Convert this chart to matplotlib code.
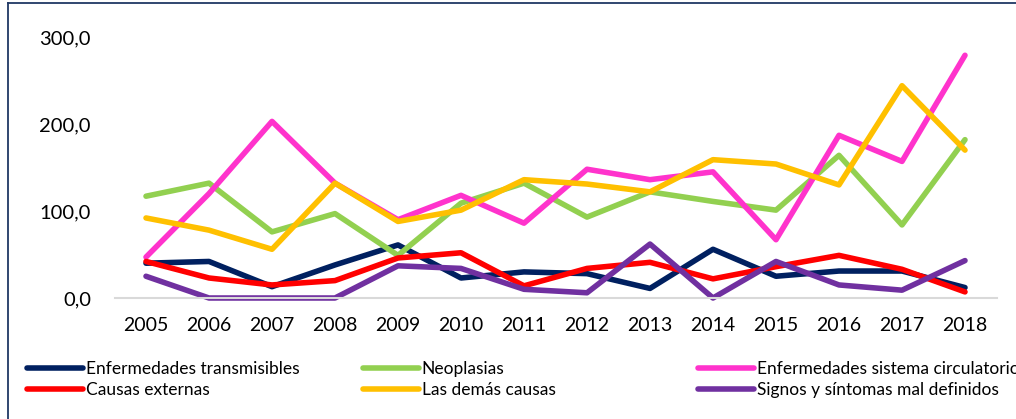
import matplotlib
matplotlib.use("Agg")
from matplotlib import pyplot as plt
from matplotlib.lines import Line2D
from matplotlib.ticker import FuncFormatter

years = [str(y) for y in range(2005, 2019)]

transmisibles = [40, 42, 13, 38, 61, 23, 30, 28, 11, 56, 25, 31, 31, 12]
neoplasias = [117, 132, 76, 97, 49, 109, 132, 93, 122, 111, 101, 164, 84, 182]
circulatorio = [47, 120, 203, 132, 90, 118, 86, 148, 136, 145, 67, 187, 157, 279]
externas = [42, 23, 15, 20, 46, 52, 14, 34, 41, 22, 36, 49, 33, 7]
demas = [92, 78, 56, 132, 88, 101, 136, 131, 122, 159, 154, 130, 244, 170]
signos = [25, 0, 0, 0, 37, 34, 10, 6, 62, 0, 42, 15, 9, 43]

series = [
    ("Enfermedades transmisibles", transmisibles, "#002060"),
    ("Neoplasias", neoplasias, "#92D050"),
    ("Enfermedades sistema circulatorio", circulatorio, "#FF33CC"),
    ("Causas externas", externas, "#FF0000"),
    ("Las demás causas", demas, "#FFC000"),
    ("Signos y síntomas mal definidos", signos, "#7030A0"),
]

plt.rcParams['font.family'] = ['Lato', 'DejaVu Sans']

W, H = 1016, 419
fig = plt.figure(figsize=(W / 100, H / 100), dpi=100)
ax = fig.add_axes([114.5 / W, 1 - 298 / H, (996.5 - 114.5) / W, (298 - 37) / H])

x = list(range(len(years)))
handles = {}
for name, vals, color in series:
    ln, = ax.plot(x, vals, color=color, linewidth=4, solid_capstyle='round',
                  clip_on=False, label=name)
    handles[name] = ln

ax.set_xlim(-0.5, len(years) - 0.5)
ax.set_ylim(0, 300)
ax.set_xticks(x)
ax.set_xticklabels(years)
ax.set_yticks([0, 100, 200, 300])
ax.yaxis.set_major_formatter(FuncFormatter(lambda v, p: f"{v:.1f}".replace(".", ",")))
ax.tick_params(axis='both', length=0, labelsize=14, colors='black')
ax.tick_params(axis='y', labelsize=14.5, pad=17)
ax.tick_params(axis='x', pad=14)
for s in ['top', 'right', 'left']:
    ax.spines[s].set_visible(False)
ax.spines['bottom'].set_color('#D9D9D9')
ax.spines['bottom'].set_linewidth(1.5)

# legend in three columns of two rows
cols = [
    (27, ["Enfermedades transmisibles", "Causas externas"]),
    (363, ["Neoplasias", "Las demás causas"]),
    (698, ["Enfermedades sistema circulatorio", "Signos y síntomas mal definidos"]),
]
for xpos, names in cols:
    leg = fig.legend([handles[n] for n in names], names, loc='upper left',
                     bbox_to_anchor=(xpos / W, 1 - 361 / H), frameon=False,
                     fontsize=12.5, handlelength=3.2, handletextpad=0.17,
                     borderpad=0, borderaxespad=0, labelspacing=0.3)

# outer frame of the original figure box
frame_col = '#203864'
fig.add_artist(Line2D([8 / W, 8 / W], [0, 1 - 3.5 / H], color=frame_col, linewidth=1.3))
fig.add_artist(Line2D([8 / W, 1], [1 - 3.5 / H, 1 - 3.5 / H], color=frame_col, linewidth=1.3))

fig.savefig("out.png", dpi=100)
